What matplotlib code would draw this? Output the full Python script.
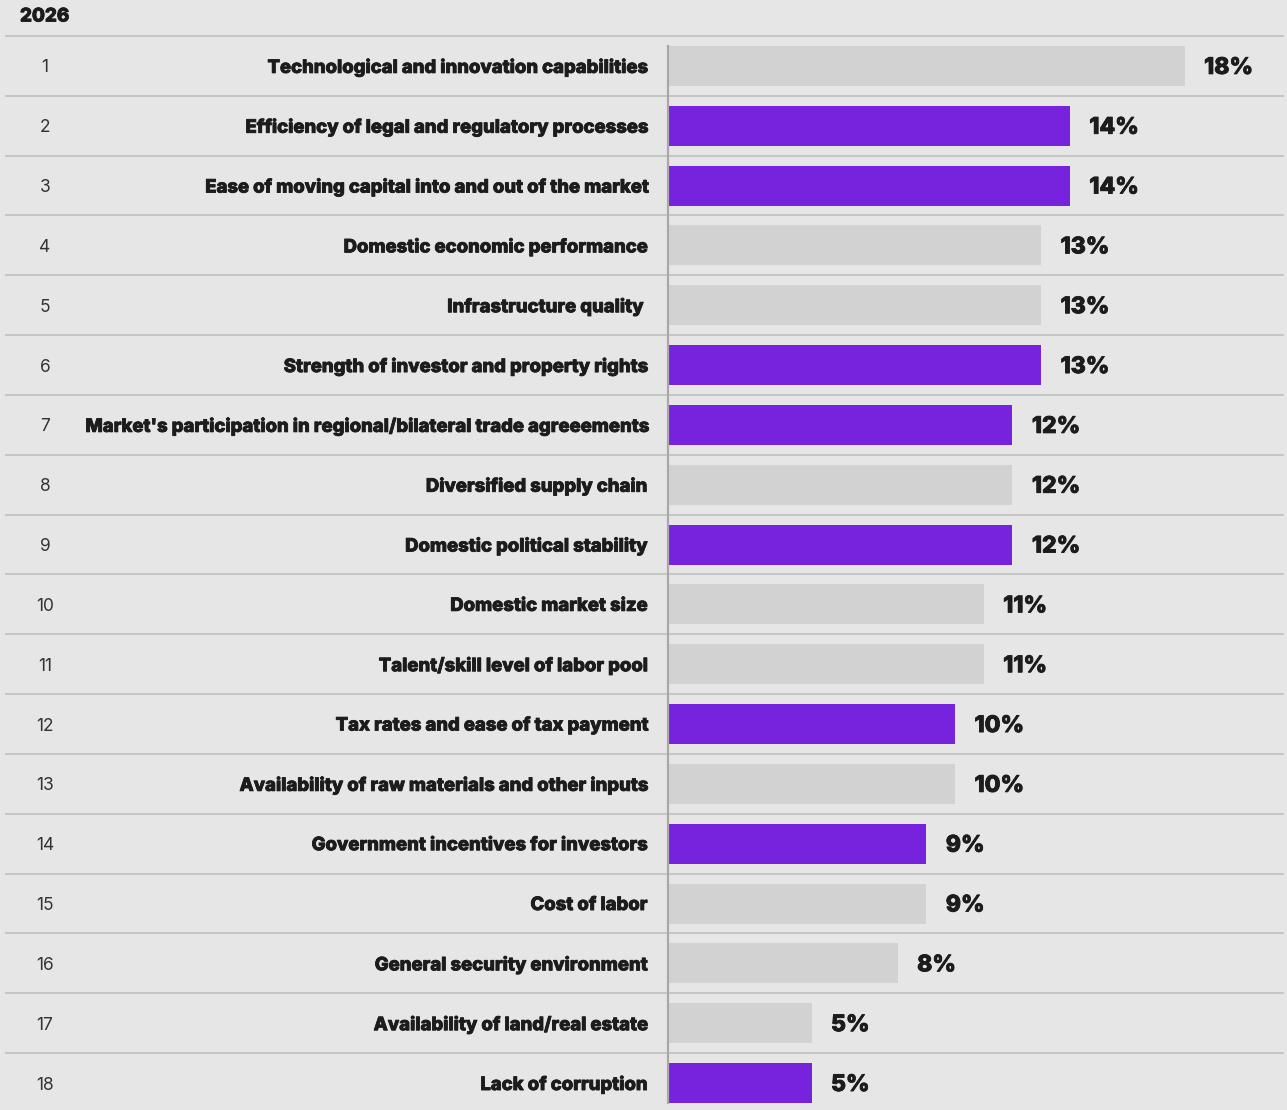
import matplotlib.pyplot as plt
import matplotlib.patheffects as pe
from matplotlib.transforms import blended_transform_factory

YEAR = "2026"
ranks = list(range(1, 19))
factors = [
    "Technological and innovation capabilities",
    "Efficiency of legal and regulatory processes",
    "Ease of moving capital into and out of the market",
    "Domestic economic performance",
    "Infrastructure quality ",
    "Strength of investor and property rights",
    "Market's participation in regional/bilateral trade agreeements",
    "Diversified supply chain",
    "Domestic political stability",
    "Domestic market size",
    "Talent/skill level of labor pool",
    "Tax rates and ease of tax payment",
    "Availability of raw materials and other inputs",
    "Government incentives for investors",
    "Cost of labor",
    "General security environment",
    "Availability of land/real estate",
    "Lack of corruption",
]
shares = [18, 14, 14, 13, 13, 13, 12, 12, 12, 11, 11, 10, 10, 9, 9, 8, 5, 5]
highlight = [False, True, True, False, False, True, True, False, True,
             False, False, True, False, True, False, False, False, True]

BG = "#e6e6e6"
GREY = "#d2d2d2"
PURPLE = "#7722dd"
TXT = "#1c1c1c"
LINE = "#c2c2c2"

W, H = 1287, 1110
fig = plt.figure(figsize=(W / 100, H / 100), dpi=100, facecolor=BG)
plt.rcParams['font.family'] = ['Inter', 'DejaVu Sans']

# bar axes: starts at the vertical rule, 1% ~ 28.7 px
x0, px_per_pct = 668, 28.7
top, row_h = 36, 59.83
ax = fig.add_axes([x0 / W, 0, 1 - x0 / W, 1 - top / H])
ax.set_facecolor(BG)
ax.set_xlim(0, (W - x0) / px_per_pct)
ax.set_ylim((H - top) / row_h - 0.5, -0.5)
ax.axis("off")

n = len(factors)
ypos = list(range(n))
colors = [PURPLE if h else GREY for h in highlight]
ax.barh(ypos, shares, height=40 / row_h, color=colors, zorder=2)

tr = blended_transform_factory(fig.transFigure, ax.transData)

# row separators
for i in range(n):
    ax.plot([6 / W, 1283 / W], [i - 0.5, i - 0.5], color=LINE, lw=1.3,
            transform=tr, clip_on=False, zorder=1)
ax.plot([0, 0], [-0.5 + 10 / row_h, (H - top) / row_h - 0.5 - 7 / row_h],
        color="#a8a8a8", lw=1.6, zorder=3, clip_on=False)

# thicken the bold text a little
thick = [pe.withStroke(linewidth=0.6, foreground=TXT)]

lab_x = (647 - x0) / px_per_pct
dy = 2 / row_h  # nudge text down a touch
for y, r, name, v in zip(ypos, ranks, factors, shares):
    ax.text(45 / W, y + dy, str(r), transform=tr, ha="center", va="center",
            fontsize=12.5, color="#333333")
    ax.text(lab_x, y + dy, name, ha="right", va="center", fontsize=13.3,
            fontweight="heavy", color=TXT, clip_on=False, path_effects=thick)
    ax.text(v + 0.68, y + dy, f"{v}%", ha="left", va="center", fontsize=16.5,
            fontweight="heavy", color=TXT, path_effects=thick)

fig.text(20 / W, 1 - 17 / H, YEAR, ha="left", va="center", fontsize=13.5,
         fontweight="heavy", color=TXT, path_effects=thick)

fig.savefig("out.png", dpi=100, facecolor=BG)
